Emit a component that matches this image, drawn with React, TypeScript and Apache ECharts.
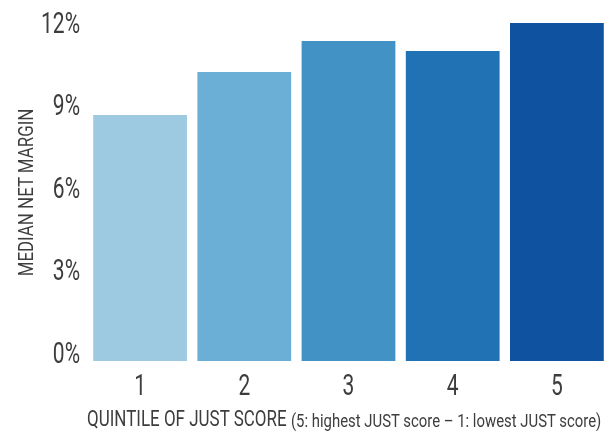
import React, { useEffect, useRef } from "react";
import * as echarts from "echarts";

// Quintiles of the JUST score and the median net margin of each (percent)
const quintiles = ["1", "2", "3", "4", "5"];
const medianNetMargin = [8.95, 10.51, 11.64, 11.27, 12.29];
const barColors = ["#9ecae1", "#6baed6", "#4292c6", "#2171b5", "#0f52a0"];

// value-axis ticks (percent)
const yTicks = [0, 3, 6, 9, 12];
const yAxisMax = 12.3;

const yTitle = "MEDIAN NET MARGIN";
const xTitleMain = "QUINTILE OF JUST SCORE";
const xTitleNote = "(5: highest JUST score \u2013 1: lowest JUST score)";

const FONT = "Roboto, 'Noto Sans', sans-serif";
const TEXT_COLOR = "#3d3d3d";

// horizontal squeeze factor so a string fills a given width (condensed look)
function squeeze(text: string, size: number, width: number): number {
  const ctx = document.createElement("canvas").getContext("2d");
  if (!ctx) return 1;
  ctx.font = `${size}px ${FONT}`;
  const w = ctx.measureText(text).width;
  return w > 0 ? width / w : 1;
}

export default function App() {
  const ref = useRef<HTMLDivElement>(null);

  useEffect(() => {
    if (!ref.current) return;
    const chart = echarts.init(ref.current, undefined, { renderer: "svg" });

    chart.setOption({
      animation: false,
      grid: { left: 88, right: 7, top: 22.75, bottom: 72, containLabel: false },
      xAxis: {
        type: "category",
        data: quintiles,
        axisLine: { show: false },
        axisTick: { show: false },
        axisLabel: { show: false },
      },
      yAxis: {
        type: "value",
        min: 0,
        max: yAxisMax,
        interval: 3,
        splitLine: { show: false },
        axisLine: { show: false },
        axisTick: { show: false },
        axisLabel: { show: false },
      },
      series: [
        {
          type: "bar",
          barCategoryGap: "10%",
          data: medianNetMargin.map((v, i) => ({
            value: v,
            itemStyle: { color: barColors[i] },
          })),
        },
      ],
    });

    // tall, narrow tick labels placed through the chart's own axes
    const tickSize = 29;
    const tickScale = squeeze("12%", tickSize, 39);

    const xLabels = quintiles.map((q) => ({
      type: "text",
      x: chart.convertToPixel({ xAxisIndex: 0 }, q) as number,
      y: (chart.convertToPixel({ yAxisIndex: 0 }, 0) as number) + 24,
      scaleX: tickScale,
      style: {
        text: q,
        fontFamily: FONT,
        fontSize: tickSize,
        lineHeight: tickSize,
        fill: TEXT_COLOR,
        align: "center",
        verticalAlign: "middle",
      },
    }));

    const yLabels = yTicks.map((v) => ({
      type: "text",
      x: 80,
      y: (chart.convertToPixel({ yAxisIndex: 0 }, v) as number) - 8,
      scaleX: tickScale,
      style: {
        text: `${v}%`,
        fontFamily: FONT,
        fontSize: tickSize,
        lineHeight: tickSize,
        fill: TEXT_COLOR,
        align: "right",
        verticalAlign: "middle",
      },
    }));

    const mainSize = 22;
    const noteSize = 19;
    const ySize = 20;

    chart.setOption({
      graphic: [
        ...xLabels,
        ...yLabels,
        {
          type: "text",
          x: 27,
          y: 192.5,
          rotation: Math.PI / 2,
          scaleX: squeeze(yTitle, ySize, 168),
          style: {
            text: yTitle,
            fontFamily: FONT,
            fontSize: ySize,
            lineHeight: ySize,
            fill: TEXT_COLOR,
            align: "center",
            verticalAlign: "middle",
          },
        },
        {
          type: "text",
          x: 87,
          y: 419,
          scaleX: squeeze(xTitleMain, mainSize, 200),
          style: {
            text: xTitleMain,
            fontFamily: FONT,
            fontSize: mainSize,
            lineHeight: mainSize,
            fill: TEXT_COLOR,
            align: "left",
            verticalAlign: "middle",
          },
        },
        {
          type: "text",
          x: 291,
          y: 420,
          scaleX: squeeze(xTitleNote, noteSize, 311),
          style: {
            text: xTitleNote,
            fontFamily: FONT,
            fontSize: noteSize,
            lineHeight: noteSize,
            fill: TEXT_COLOR,
            align: "left",
            verticalAlign: "middle",
          },
        },
      ],
    });

    return () => chart.dispose();
  }, []);

  return (
    <div
      ref={ref}
      style={{ position: "fixed", left: 0, top: 0, width: 616, height: 433 }}
    />
  );
}
